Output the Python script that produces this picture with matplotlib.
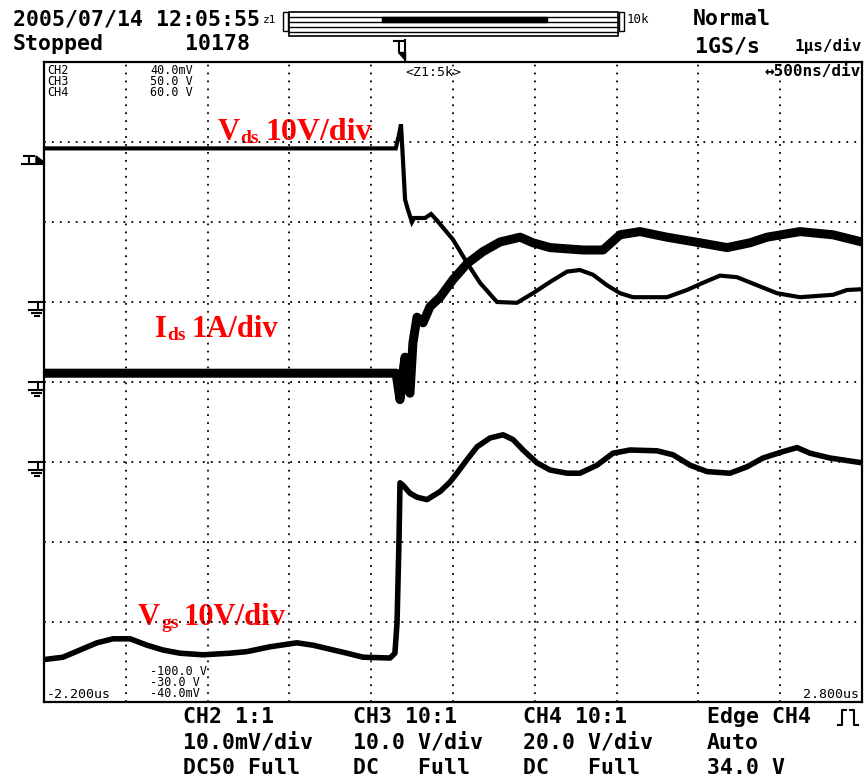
import matplotlib
matplotlib.use("Agg")
import matplotlib.pyplot as plt
from matplotlib.patches import Rectangle, Polygon

# ---------------- data (time in us, level in divisions from bottom) ----------------
vds_t = [-2.2, -0.05, -0.03, -0.018, -0.006, 0.007, 0.025, 0.049, 0.062, 0.129, 0.166, 0.202,
         0.30, 0.386, 0.465, 0.569, 0.691, 0.789, 0.893, 0.997, 1.076, 1.156, 1.241, 1.321,
         1.40, 1.608, 1.73, 1.828, 1.932, 2.036, 2.158, 2.28, 2.421, 2.623, 2.708, 2.8]
vds_y = [6.92, 6.92, 7.09, 7.22, 6.78, 6.28, 6.15, 6.0, 6.05, 6.05, 6.1, 6.02,
         5.78, 5.49, 5.24, 5.0, 4.99, 5.11, 5.25, 5.38, 5.4, 5.34, 5.21, 5.11,
         5.06, 5.06, 5.15, 5.24, 5.33, 5.31, 5.21, 5.11, 5.06, 5.09, 5.15, 5.16]

ids_t = [-2.2, -0.048, -0.024, -0.006, 0.007, 0.025, 0.037, 0.055, 0.080, 0.117, 0.159, 0.221,
         0.30, 0.386, 0.483, 0.587, 0.710, 0.789, 0.893, 1.095, 1.217, 1.321, 1.443, 1.608,
         1.810, 1.975, 2.115, 2.219, 2.421, 2.623, 2.8]
ids_y = [4.11, 4.11, 3.78, 4.12, 4.31, 3.90, 3.86, 4.49, 4.81, 4.74, 4.94, 5.06,
         5.28, 5.48, 5.63, 5.75, 5.81, 5.74, 5.68, 5.65, 5.65, 5.84, 5.88, 5.81,
         5.74, 5.68, 5.74, 5.81, 5.88, 5.84, 5.75]

vgs_t = [-2.2, -2.084, -1.98, -1.876, -1.778, -1.674, -1.57, -1.473, -1.369, -1.228, -1.063,
         -0.959, -0.819, -0.654, -0.556, -0.452, -0.348, -0.25, -0.085, -0.055, -0.042, -0.03,
         -0.024, -0.006, 0.037, 0.08, 0.141, 0.221, 0.282, 0.324, 0.386, 0.447, 0.526, 0.606,
         0.667, 0.728, 0.813, 0.893, 0.997, 1.076, 1.18, 1.278, 1.382, 1.547, 1.645, 1.749,
         1.853, 1.993, 2.097, 2.195, 2.317, 2.403, 2.482, 2.604, 2.8]
vgs_y = [0.53, 0.56, 0.65, 0.74, 0.79, 0.79, 0.71, 0.65, 0.61, 0.59, 0.61,
         0.63, 0.69, 0.74, 0.71, 0.66, 0.61, 0.56, 0.55, 0.61, 0.99, 2.03,
         2.74, 2.71, 2.61, 2.56, 2.53, 2.63, 2.75, 2.86, 3.03, 3.19, 3.30, 3.34,
         3.28, 3.15, 2.99, 2.90, 2.86, 2.86, 2.96, 3.11, 3.15, 3.14, 3.09, 2.96,
         2.88, 2.86, 2.94, 3.05, 3.13, 3.18, 3.11, 3.05, 2.99]

t_min, t_max = -2.2, 2.8
n_hdiv, n_vdiv = 10, 8

top_left = "2005/07/14 12:05:55"
status = "Stopped"
count = "10178"
mode = "Normal"
rate = "1GS/s"
tdiv = "1\u00b5s/div"
zoom_txt = "<Z1:5k>"
zdiv = "\u2194500ns/div"
ch_names = ["CH2", "CH3", "CH4"]
ch_top = ["40.0mV", "50.0 V", "60.0 V"]
ch_bot = ["-100.0 V", "-30.0 V", "-40.0mV"]
t_left = "-2.200us"
t_right = "2.800us"
bottom_rows = [
    ["CH2 1:1", "CH3 10:1", "CH4 10:1", "Edge CH4"],
    ["10.0mV/div", "10.0 V/div", "20.0 V/div", "Auto"],
    ["DC50 Full", "DC   Full", "DC   Full", "34.0 V"],
]

# ---------------- figure ----------------
W, H = 867, 784
fig = plt.figure(figsize=(W / 100, H / 100), dpi=100)
fig.patch.set_facecolor("white")

# overlay in pixel coordinates
ov = fig.add_axes([0, 0, 1, 1])
ov.set_xlim(0, W)
ov.set_ylim(H, 0)
ov.axis("off")

L, R, T, B = 44, 862, 62, 702
ax = fig.add_axes([L / W, 1 - B / H, (R - L) / W, (B - T) / H])
ax.set_xlim(t_min, t_max)
ax.set_ylim(0, n_vdiv)
ax.set_xticks([])
ax.set_yticks([])
for s in ax.spines.values():
    s.set_linewidth(1.6)
    s.set_color("black")
ax.patch.set_alpha(0)

dot = dict(color="black", lw=1.3, linestyle=(0, (1, 3.4)), dash_capstyle="butt", zorder=1)
step = (t_max - t_min) / n_hdiv
for k in range(1, n_hdiv):
    ax.axvline(t_min + k * step, **dot)
for k in range(1, n_vdiv):
    ax.axhline(k, **dot)

ax.plot(vds_t, vds_y, color="black", lw=3.0, zorder=3, solid_joinstyle="miter")
ax.plot(ids_t, ids_y, color="black", lw=6.5, zorder=3)
ax.plot(vgs_t, vgs_y, color="black", lw=4.0, zorder=3)

mono = "DejaVu Sans Mono"
big = dict(family=mono, fontsize=15.5, fontweight="bold", color="black", va="center", ha="left")
small = dict(family=mono, fontsize=8.5, color="black", ha="left", linespacing=0.8)
tiny1 = dict(family=mono, fontsize=9.5, color="black")

# header
ov.text(13, 19, top_left, **big)
ov.text(263, 20, "z1", family=mono, fontsize=8, va="center", ha="left")
ov.text(13, 44, status, **big)
ov.text(185, 44, count, **big)
ov.text(627, 19, "10k", family=mono, fontsize=9, va="center", ha="left")
ov.text(693, 19, mode, **big)
ov.text(695, 46, rate, **big)
ov.text(862, 46, tdiv, family=mono, fontsize=11.5, fontweight="bold", va="center", ha="right")

# record bar
ov.add_patch(Rectangle((289, 12), 329, 24, fill=False, lw=1.2, ec="black"))
for yy in (17, 22, 27, 32):
    ov.plot([289, 618], [yy, yy], color="black", lw=1.0)
ov.add_patch(Rectangle((382, 17), 165, 5, color="black"))
ov.add_patch(Rectangle((283, 12), 5, 19, fill=False, lw=1.0, ec="black"))
ov.add_patch(Rectangle((619, 12), 5, 19, fill=False, lw=1.0, ec="black"))

# trigger position marker (top)
ov.plot([394, 403], [41, 41], color="black", lw=1.5)
ov.plot([398.5, 398.5], [41, 51], color="black", lw=1.5)
ov.plot([405, 405], [40, 60], color="black", lw=1.5)
ov.add_patch(Polygon([(398, 52), (405, 52), (405, 60)], closed=True, color="black"))

# in-frame texts (stacked rows as single multi-line texts)
ov.text(47, 64, "\n".join(ch_names), va="top", **small)
ov.text(150, 64, "\n".join(ch_top), va="top", **small)
ov.text(405, 72, zoom_txt, va="center", ha="left", **tiny1)
ov.text(861, 71, zdiv, family=mono, fontsize=11.5, fontweight="bold", va="center", ha="right")
ov.text(150, 700, "\n".join(ch_bot), va="bottom", **small)
ov.text(47, 695, t_left, va="center", ha="left", **tiny1)
ov.text(859, 695, t_right, va="center", ha="right", **tiny1)

# bottom info rows
cols = [183, 353, 523, 707]
rows_y = [717, 743, 768]
for r, row in enumerate(bottom_rows):
    for c, txt in enumerate(row):
        ov.text(cols[c], rows_y[r], txt, **big)
# edge symbol
ov.plot([838, 842, 842, 846], [725, 725, 710, 710], color="black", lw=1.5)
ov.plot([850, 854, 854, 858], [710, 710, 725, 725], color="black", lw=1.5)

# left markers: trigger level and grounds
ov.plot([24, 34], [156, 156], color="black", lw=1.5)
ov.plot([29, 29], [156, 164], color="black", lw=1.5)
ov.plot([22, 44], [164, 164], color="black", lw=1.5)
ov.add_patch(Polygon([(36, 156), (44, 162), (36, 163)], closed=True, color="black"))
for gy in (302, 382, 462):
    ov.plot([29, 44], [gy, gy], color="black", lw=1.5)
    ov.plot([38, 38], [gy, gy + 8], color="black", lw=1.5)
    ov.plot([29, 44], [gy + 8, gy + 8], color="black", lw=1.5)
    ov.plot([32, 41], [gy + 11, gy + 11], color="black", lw=1.5)
    ov.plot([34.5, 38.5], [gy + 14, gy + 14], color="black", lw=1.5)

# red labels
serif = "Liberation Serif"
red = "#ff0000"
lab = dict(family=serif, fontweight="bold", color=red, va="baseline", ha="left")
ov.text(218, 140, "V", fontsize=22, **lab)
ov.text(240, 143, "ds", fontsize=14, **lab)
ov.text(265, 140, "10V/div", fontsize=23, **lab)
ov.text(155, 337, "I", fontsize=22, **lab)
ov.text(167, 340, "ds", fontsize=14, **lab)
ov.text(192, 337, "1A/div", fontsize=22, **lab)
ov.text(138, 625, "V", fontsize=22, **lab)
ov.text(161, 628, "gs", fontsize=14, **lab)
ov.text(183, 625, "10V/div", fontsize=22, **lab)

fig.savefig("out.png", dpi=100)
